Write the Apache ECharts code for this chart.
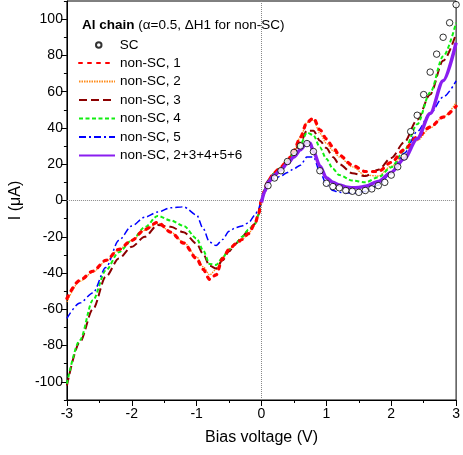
<!DOCTYPE html>
<html>
<head>
<meta charset="utf-8">
<script src="https://cdn.jsdelivr.net/npm/echarts@6/dist/echarts.min.js"></script>
<style>html,body{margin:0;padding:0;background:#fff}#c{width:463px;height:455px}</style>
</head>
<body>
<div id="c"></div>
<script>
// Voltage grid for non-SC curves (V)
const vGrid = [-3,-2.8,-2.6,-2.4,-2.2,-2.0,-1.8,-1.6,-1.4,-1.2,-1.0,-0.9,-0.8,-0.7,-0.6,-0.5,-0.4,-0.3,-0.2,-0.1,-0.05,0,0.05,0.1,0.2,0.3,0.4,0.5,0.6,0.7,0.8,0.9,1.0,1.1,1.2,1.4,1.6,1.8,2.0,2.2,2.4,2.6,2.8,3.0];
// Currents (µA)
const nonSC1 = [-54,-44,-39,-33,-27,-22,-16,-12,-17.4,-23.5,-32,-38,-43.5,-41,-32,-27,-24,-21.5,-18.3,-12.8,-8,0,6,11,15.5,18.5,22,27.5,35,43,45.5,39,34,29.5,25,19.5,16,16,21,28,35,40.5,46,52];
const nonSC2 = [-56,-44.5,-39.5,-33.5,-27,-22,-16.5,-12.5,-17.4,-23,-31,-36.5,-41,-38,-31,-26.6,-24,-21.5,-18.3,-12.8,-8,0,6,11,15.5,18.5,22,27.5,35,43,44.5,37,31.5,27.5,24,18.5,14,13.5,19,24.5,33,40,46,54];
const nonSC3 = [-102,-78,-60,-42,-32,-25.5,-20,-13.5,-14.5,-17.5,-23.8,-29.5,-36,-37.5,-33,-28,-23.8,-20,-16.5,-12.8,-8,0,6,11,15,18.5,22,26.5,32,38.5,38.5,33,29,24,20,15,13.5,17,23.5,32,44.5,58.5,77,92];
const nonSC4 = [-101,-77,-55,-38.5,-28.5,-22,-14.7,-8.5,-11,-14,-21,-27.5,-35,-35.5,-31.5,-27,-23.8,-20,-16,-12.8,-8,0,6,11,15,18.5,22,26,31,37.5,36,29.3,23,17.5,14,11,10,12.8,18.3,27.5,42,59.5,79.5,98];
const nonSC5 = [-65,-56.5,-51,-37,-22,-14,-9.2,-6.4,-4,-3.5,-8,-15.5,-23,-24.8,-21.5,-17,-15,-14,-12.3,-8,-5,0,6,10.5,12,13.5,15.5,17.5,19.5,24,24,16,9,5.5,4.5,4,5,8.5,15,26,38,48,57,66];
// Sum curve
const vSum = [0,0.05,0.1,0.2,0.3,0.4,0.5,0.6,0.7,0.75,0.8,0.9,1.0,1.1,1.2,1.3,1.4,1.5,1.6,1.8,2.0,2.2,2.4,2.6,2.8,3.0];
const nonSCSum = [-1,5,10,14,17,20.5,24,28,32,31.5,27,19,12.5,10,8.5,7.5,7,7.2,7.8,10.5,15.5,23,34,48,66,87];
// SC points
const vSC = [0.1,0.2,0.3,0.4,0.5,0.6,0.7,0.8,0.9,1.0,1.1,1.2,1.3,1.4,1.5,1.6,1.7,1.8,1.9,2.0,2.1,2.2,2.3,2.4,2.5,2.6,2.7,2.8,2.9,3.0];
const sc = [8.2,12.4,16.4,21.5,26.5,30.1,31.4,27,16.4,9.5,7.7,7,5.5,5.1,4.5,5.5,6.4,8.2,10,14,18.6,24,38,47,58.4,70.8,80.7,90,98,108];
// Ticks
const yMajorTicks = [-100,-80,-60,-40,-20,0,20,40,60,80,100];
const yMinorTicks = [-110,-90,-70,-50,-30,-10,10,30,50,70,90,110];

const pairs = (xs, ys) => xs.map((x, i) => [x, ys[i]]);
const FONT = '"Liberation Sans", Arial, sans-serif';

function lineSeries(name, xs, ys, color, width, type, z, cap) {
  return {
    name, type: 'line', data: pairs(xs, ys), showSymbol: false, symbol: 'none',
    smooth: 0.3, smoothMonotone: 'x', z: z || 2,
    lineStyle: { color, width, type, cap: cap || 'butt' },
    itemStyle: { color }
  };
}

const chart = echarts.init(document.getElementById('c'), null, { renderer: 'canvas' });
chart.setOption({
  animation: false,
  textStyle: { fontFamily: FONT },
  grid: { left: 60, right: 3, top: 1, bottom: 55, show: true, borderColor: '#000', borderWidth: 1 },
  title: {
    text: '{b|Al chain} (α=0.5, ΔH1 for non-SC)',
    left: 77, top: 13,
    textStyle: { fontSize: 13.5, fontWeight: 'normal', color: '#000', fontFamily: FONT,
      rich: { b: { fontWeight: 'bold', fontSize: 13.5, color: '#000', fontFamily: FONT } } }
  },
  legend: [
    { data: ['SC'], orient: 'vertical', left: 90, top: 33, itemWidth: 20, itemHeight: 5.5,
      itemGap: 4.5, itemTextGap: 18,
      textStyle: { fontSize: 13.5, color: '#000', fontFamily: FONT, padding: [0, 0, 0, 6] } },
    { data: ['non-SC, 1','non-SC, 2','non-SC, 3','non-SC, 4','non-SC, 5','non-SC, 2+3+4+5+6'],
      orient: 'vertical', left: 73, top: 51, itemWidth: 36, itemHeight: 14,
      itemGap: 4.5, textStyle: { fontSize: 13.5, color: '#000', fontFamily: FONT },
      itemStyle: { opacity: 0 } }
  ],
  xAxis: {
    type: 'value', min: -3, max: 3, interval: 1,
    axisLine: { onZero: false, lineStyle: { color: '#000', width: 1 } },
    axisTick: { length: 6, lineStyle: { color: '#000' } },
    minorTick: { show: true, splitNumber: 2, length: 3, lineStyle: { color: '#000' } },
    splitLine: { show: false },
    axisLabel: { color: '#000', fontSize: 14, margin: 7, fontFamily: FONT },
    name: 'Bias voltage (V)', nameLocation: 'middle', nameGap: 30,
    nameTextStyle: { fontSize: 16, color: '#000', fontFamily: FONT }
  },
  yAxis: [
    { type: 'value', min: -110, max: 110, position: 'left',
      axisLine: { show: true, onZero: false, lineStyle: { color: '#000', width: 1 } },
      axisTick: { show: true, length: 6, customValues: yMajorTicks, lineStyle: { color: '#000' } },
      axisLabel: { customValues: yMajorTicks, color: '#000', fontSize: 14, margin: 4, fontFamily: FONT },
      splitLine: { show: false },
      name: 'I (μA)', nameLocation: 'middle', nameGap: 40,
      nameTextStyle: { fontSize: 16, color: '#000', fontFamily: FONT } },
    { type: 'value', min: -110, max: 110, position: 'left',
      axisLine: { show: false, onZero: false },
      axisTick: { show: true, length: 3, customValues: yMinorTicks, lineStyle: { color: '#000' } },
      axisLabel: { show: false },
      splitLine: { show: false } }
  ],
  series: [
    { name: 'SC', type: 'scatter', data: pairs(vSC, sc), symbol: 'circle', symbolSize: 6.5,
      itemStyle: { color: '#fff', borderColor: '#000', borderWidth: 1 }, z: 6,
      markLine: { silent: true, symbol: 'none', label: { show: false }, animation: false,
        lineStyle: { color: '#888', type: 'dotted', width: 1 },
        data: [{ xAxis: 0 }, { yAxis: 0 }] } },
    lineSeries('non-SC, 1', vGrid, nonSC1, '#ff0000', 3.2, [3, 6], 4, 'round'),
    lineSeries('non-SC, 2', vGrid, nonSC2, '#ff8c1a', 1.3, [1.5, 1], 3),
    lineSeries('non-SC, 3', vGrid, nonSC3, '#8b0000', 2, [8, 4], 3),
    lineSeries('non-SC, 4', vGrid, nonSC4, '#11ee11', 2, [4, 2.5], 3),
    lineSeries('non-SC, 5', vGrid, nonSC5, '#0000ff', 1.5, [7, 3, 2, 3], 3),
    lineSeries('non-SC, 2+3+4+5+6', vSum, nonSCSum, '#8a1ef0', 3.5, 'solid', 5)
  ]
});
</script>
</body>
</html>
